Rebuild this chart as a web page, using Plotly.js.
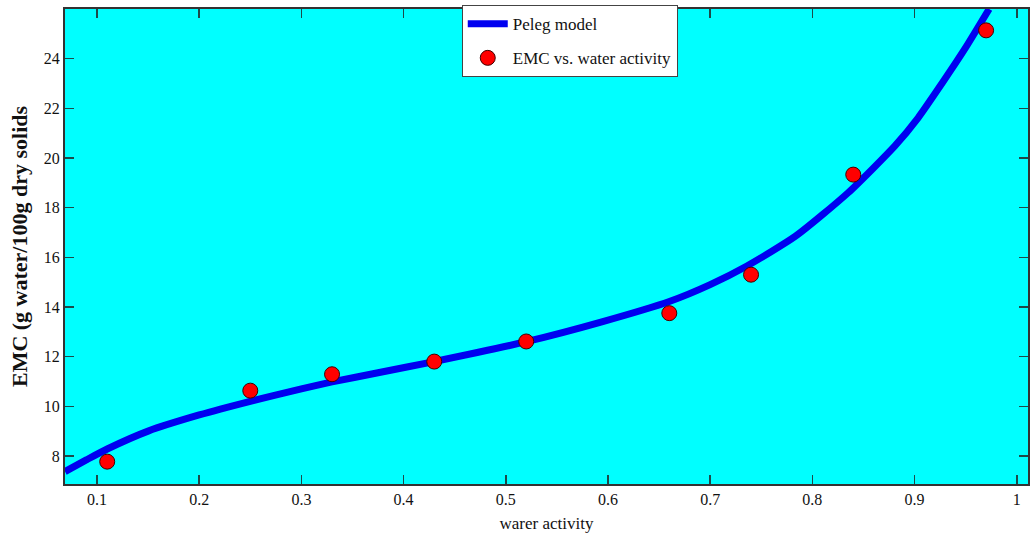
<!DOCTYPE html>
<html>
<head>
<meta charset="utf-8">
<script src="https://cdn.plot.ly/plotly-3.0.1.min.js"></script>
<style>
html,body{margin:0;padding:0;background:#fff;}
#chart{width:1030px;height:542px;}
</style>
</head>
<body>
<div id="chart"></div>
<script>
// Experimental points
const waterActivity = [0.11, 0.25, 0.33, 0.43, 0.52, 0.66, 0.74, 0.84, 0.97];
const emc = [7.77, 10.63, 11.29, 11.80, 12.61, 13.75, 15.30, 19.33, 25.14];

// Peleg model curve
const modelX = [0.0687, 0.09, 0.11, 0.15, 0.20, 0.25, 0.30, 0.33, 0.375, 0.43, 0.52, 0.594, 0.66, 0.70, 0.736, 0.7835, 0.835, 0.881, 0.9035, 0.9264, 0.949, 0.973];
const modelY = [7.37, 7.85, 8.28, 9.0, 9.65, 10.2, 10.7, 10.98, 11.35, 11.8, 12.6, 13.4, 14.22, 14.9, 15.65, 16.85, 18.6, 20.5, 21.62, 22.98, 24.38, 26.0];

const xTicks = [0.1, 0.2, 0.3, 0.4, 0.5, 0.6, 0.7, 0.8, 0.9, 1];
const xTickText = ["0.1", "0.2", "0.3", "0.4", "0.5", "0.6", "0.7", "0.8", "0.9", "1"];
const yTicks = [8, 10, 12, 14, 16, 18, 20, 22, 24];

const serif = "Liberation Serif, Times New Roman, serif";

const traces = [
  {
    x: modelX, y: modelY, type: "scatter", mode: "lines", name: "Peleg model",
    legendgroup: "a",
    line: {color: "#0000f0", width: 7, shape: "spline", smoothing: 0.6}
  },
  {
    x: waterActivity, y: emc, type: "scatter", mode: "markers", name: "EMC vs. water activity",
    legendgroup: "b",
    marker: {color: "#ff0000", size: 15, line: {color: "#400000", width: 1}}
  }
];

const axisCommon = {
  showgrid: false, zeroline: false, showline: true, linecolor: "#333333", linewidth: 2,
  mirror: "ticks", ticks: "inside", ticklen: 9, tickwidth: 1.5, tickcolor: "#1d4a4a",
  tickfont: {family: serif, size: 16, color: "#111"}
};

const layout = {
  width: 1030, height: 542,
  margin: {l: 65, r: 2, t: 9, b: 58},
  paper_bgcolor: "#ffffff",
  plot_bgcolor: "#00ffff",
  showlegend: true,
  legend: {
    x: 0.412, xanchor: "left", y: 1.008, yanchor: "top",
    bgcolor: "#ffffff", bordercolor: "#444", borderwidth: 1,
    font: {family: serif, size: 17, color: "#111"},
    traceorder: "grouped", tracegroupgap: 9, itemwidth: 40
  },
  xaxis: Object.assign({}, axisCommon, {
    range: [0.0687, 1.011], tickvals: xTicks, ticktext: xTickText,
    title: {text: "warer activity", font: {family: serif, size: 17, color: "#111"}, standoff: 10}
  }),
  yaxis: Object.assign({}, axisCommon, {
    range: [6.87, 26.0], tickvals: yTicks,
    title: {text: "<b>EMC (g water/100g dry solids</b>", font: {family: serif, size: 22, color: "#111"}, standoff: 10}
  })
};

Plotly.newPlot("chart", traces, layout, {displayModeBar: false, staticPlot: true});
</script>
</body>
</html>
